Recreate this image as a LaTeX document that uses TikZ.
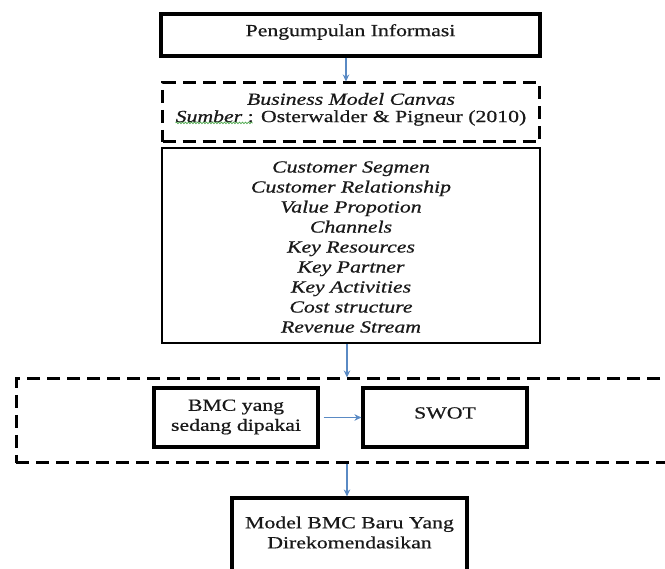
\documentclass[tikz,border=0pt]{standalone}
\usepackage{fontspec}
\setmainfont{Liberation Serif}[FakeStretch=1.28,FakeBold=0.6]
\usetikzlibrary{arrows.meta,decorations.pathmorphing}
\definecolor{arrowblue}{RGB}{90,138,196}
\definecolor{inkgray}{RGB}{25,25,25}
\definecolor{spellgreen}{RGB}{80,170,80}
\tikzset{
 solidbox/.style={draw=black, line width=3.2pt, inner sep=0pt},
 thinbox/.style={draw=black, line width=2.2pt, inner sep=0pt},
 dashbox/.style={draw=black, line width=3pt, dash pattern=on 13pt off 7pt, inner sep=0pt},
 arr/.style={draw=arrowblue, line width=1.7pt, -{Stealth[length=7pt,width=6.5pt]}},
 txt/.style={font=\fontsize{17}{20}\selectfont, text=inkgray, align=center, inner sep=0pt},
 squiggle/.style={draw=spellgreen, line width=0.7pt, decorate, decoration={snake, amplitude=0.8pt, segment length=3pt}},
}
\begin{document}
\begin{tikzpicture}[x=1pt,y=-1pt]
\useasboundingbox[fill=white] (0,0) rectangle (665,569);

% Box 1
\node[solidbox, minimum width=379pt, minimum height=42pt] (info) at (350.5,35) {};
\node[txt] (infotext) at (350.5,32) {Pengumpulan Informasi};

% Box 2 (dashed)
\node[dashbox, minimum width=377pt, minimum height=59pt] (canvas) at (351,112.5) {};
\node[txt] (canvastitle) at (351,99) {\itshape Business Model Canvas};
\node[txt] (src) at (351,118) {\textit{Sumber} : Osterwalder \& Pigneur (2010)};
\draw[squiggle] ([yshift=3pt]src.south west) -- ++(77,0);

% Box 3
\node[thinbox, minimum width=378pt, minimum height=195pt] (blocks) at (351,245.5) {};
\node[txt, font=\fontsize{17}{20}\selectfont\itshape] (blocktext) at (351,247) {Customer Segmen\\Customer Relationship\\Value Propotion\\Channels\\Key Resources\\Key Partner\\Key Activities\\Cost structure\\Revenue Stream};

% Group (dashed, runs past right edge)
\node[dashbox, minimum width=700pt, minimum height=84pt] (group) at (366,421) {};
\node[solidbox, minimum width=164pt, minimum height=59pt] (bmc) at (236,417.5) {};
\node[txt] (bmctext) at (236,417) {BMC yang\\sedang dipakai};
\node[solidbox, minimum width=164pt, minimum height=59pt] (swot) at (445,417.5) {};
\node[txt] (swottext) at (445,413) {SWOT};

% Model box (runs past bottom edge)
\node[solidbox, minimum width=235pt, minimum height=100pt] (model) at (349.5,548) {};
\node[txt] (modeltext) at (349.5,532.5) {Model BMC Baru Yang\\Direkomendasikan};

% Arrows
\draw[arr] ([xshift=-4.5pt]info.south) -- ([xshift=-4.5pt]info.south |- canvas.north);
\draw[arr] ([xshift=-4pt]blocks.south) -- ([xshift=-4pt]blocks.south |- group.north);
\draw[arr] ([xshift=4pt]bmc.east) -- (swot.west);
\draw[arr] ([xshift=-2.5pt]model.north |- group.south) -- ([xshift=-2.5pt]model.north);
\end{tikzpicture}
\end{document}
